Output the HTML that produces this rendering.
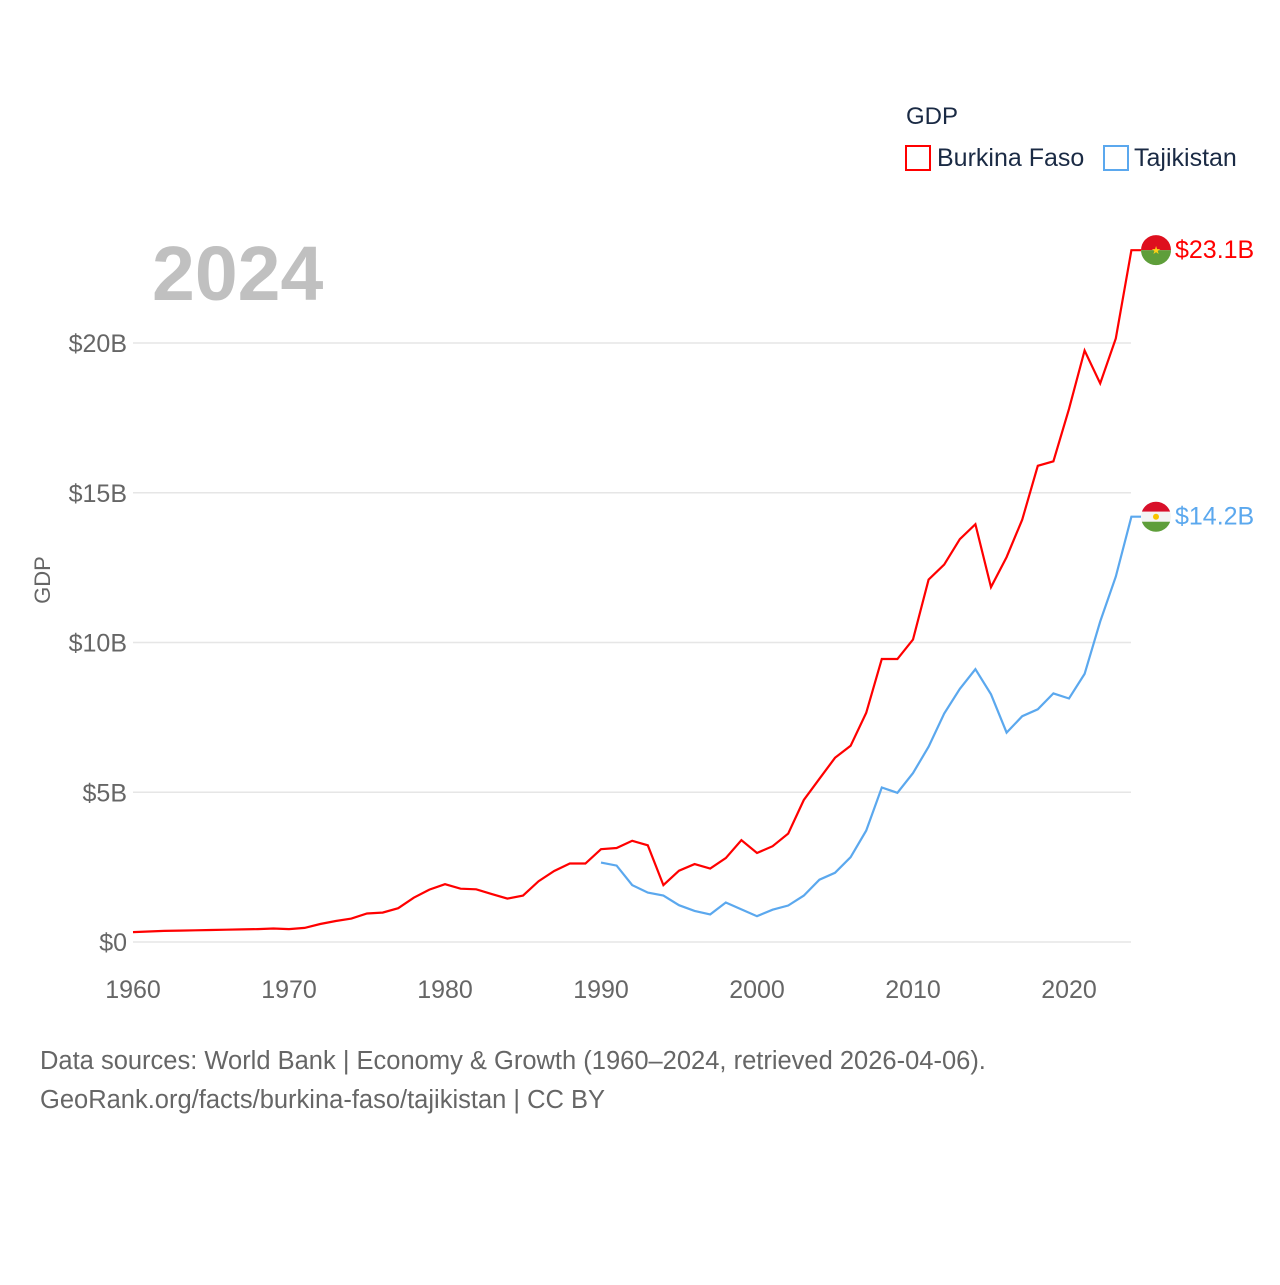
<!DOCTYPE html>
<html><head><meta charset="utf-8"><style>
body{margin:0;background:#fff;font-family:"Liberation Sans",sans-serif}
svg text{font-family:"Liberation Sans",sans-serif}
</style></head><body>
<svg id="chart" width="1280" height="1280" viewBox="0 0 1280 1280">
<text x="906" y="124" font-size="24" fill="#1a2a44">GDP</text>
<g><rect x="906" y="146" width="24" height="24" fill="none" stroke="#ff0000" stroke-width="2"/><text x="937" y="166" font-size="25" fill="#1a2a44">Burkina Faso</text></g>
<g><rect x="1104" y="146" width="24" height="24" fill="none" stroke="#5ba8ee" stroke-width="2"/><text x="1134" y="166" font-size="25" fill="#1a2a44">Tajikistan</text></g>
<text x="152" y="300" font-size="77" font-weight="bold" fill="#c0c0c0">2024</text>
<text transform="translate(50,580) rotate(-90)" text-anchor="middle" font-size="22" fill="#666">GDP</text>
<g id="grid"></g><g id="xt"></g><g id="lines"></g><g id="ends"></g>
<text x="40" y="1069" font-size="25.5" fill="#666">Data sources: World Bank | Economy &amp; Growth (1960–2024, retrieved 2026-04-06).</text>
<text x="40" y="1108" font-size="25.5" fill="#666">GeoRank.org/facts/burkina-faso/tajikistan | CC BY</text>
</svg>
<script>
const burkinaYears=[];for(let y=1960;y<=2024;y++)burkinaYears.push(y);
const burkinaValues=[0.33,0.35,0.37,0.38,0.39,0.40,0.41,0.42,0.43,0.45,0.43,0.47,0.60,0.70,0.78,0.95,0.98,1.13,1.48,1.75,1.93,1.78,1.76,1.60,1.45,1.55,2.03,2.37,2.62,2.62,3.10,3.14,3.38,3.23,1.90,2.38,2.60,2.45,2.80,3.40,2.97,3.20,3.62,4.74,5.45,6.15,6.55,7.65,9.45,9.45,10.1,12.1,12.6,13.45,13.95,11.85,12.85,14.1,15.9,16.05,17.8,19.75,18.65,20.15,23.1];
const tajikYears=[];for(let y=1990;y<=2024;y++)tajikYears.push(y);
const tajikValues=[2.65,2.55,1.90,1.65,1.55,1.23,1.04,0.92,1.32,1.09,0.86,1.08,1.22,1.55,2.08,2.31,2.83,3.72,5.16,4.98,5.64,6.52,7.63,8.45,9.11,8.27,6.99,7.54,7.77,8.30,8.13,8.95,10.7,12.2,14.2];
const yTicks=[0,5,10,15,20];
const yTickLabels=["$0","$5B","$10B","$15B","$20B"];
const xTicks=[1960,1970,1980,1990,2000,2010,2020];
const endLabels=["$23.1B","$14.2B"];
const NS="http://www.w3.org/2000/svg";
const X=y=>133+(y-1960)*15.6, Y=v=>942-v*29.95;
function mk(tag,attrs,parent){const e=document.createElementNS(NS,tag);for(const k in attrs)e.setAttribute(k,attrs[k]);parent.appendChild(e);return e;}
const grid=document.getElementById('grid');
yTicks.forEach((t,i)=>{
 const l=mk('line',{x1:133,x2:1131,y1:Y(t),y2:Y(t),stroke:'#e6e6e6','stroke-width':1.5},grid);
 
 
 const tx=mk('text',{x:127,y:Y(t)+9,'text-anchor':'end','font-size':25,fill:'#666'},grid);
 tx.textContent=yTickLabels[i];
 
 
});
const xt=document.getElementById('xt');
xTicks.forEach(t=>{
 const tx=mk('text',{x:X(t),y:998,'text-anchor':'middle','font-size':25,fill:'#666'},xt);
 tx.textContent=t;
 
 
});
const lines=document.getElementById('lines');
function series(yrs,vals,col,name){
 const d=yrs.map((y,i)=>(i?'L':'M')+X(y).toFixed(1)+','+Y(vals[i]).toFixed(1)).join('')+'H1141';
 const p=mk('path',{d:d,fill:'none',stroke:col,'stroke-width':2.2,'stroke-linejoin':'miter'},lines);
 
 
}
series(burkinaYears,burkinaValues,'#ff0000','line-burkina-faso');
series(tajikYears,tajikValues,'#5ba8ee','line-tajikistan');
const ends=document.getElementById('ends');
function flag(cy,top,mid,bot,label,col,name){
 const g=mk('g',{},ends);
 
 
 const cid='c'+name;
 const cp=mk('clipPath',{id:cid},g);mk('circle',{cx:1156,cy:cy,r:15},cp);
 const gg=mk('g',{'clip-path':'url(#'+cid+')'},g);
 if(mid){mk('rect',{x:1140,y:cy-16,width:32,height:11,fill:top},gg);mk('rect',{x:1140,y:cy-5,width:32,height:10,fill:mid},gg);mk('rect',{x:1140,y:cy+5,width:32,height:11,fill:bot},gg);mk('circle',{cx:1156,cy:cy,r:3,fill:'#f8c300'},gg);}
 else{mk('rect',{x:1140,y:cy-16,width:32,height:16,fill:top},gg);mk('rect',{x:1140,y:cy,width:32,height:16,fill:bot},gg);mk('text',{x:1156,y:cy+4,'text-anchor':'middle','font-size':11,fill:'#fcd116'},gg).textContent='★';}
 const t=mk('text',{x:1175,y:cy+8,'font-size':25,fill:col},g);t.textContent=label;
}
flag(Y(burkinaValues[burkinaValues.length-1]),'#de0f1e',null,'#5e9e3a',endLabels[0],'#ff0000','end-label-burkina-faso');
flag(Y(tajikValues[tajikValues.length-1]),'#d8102a','#f4f4f4','#5e9e3a',endLabels[1],'#5ba8ee','end-label-tajikistan');
</script>
</body></html>
